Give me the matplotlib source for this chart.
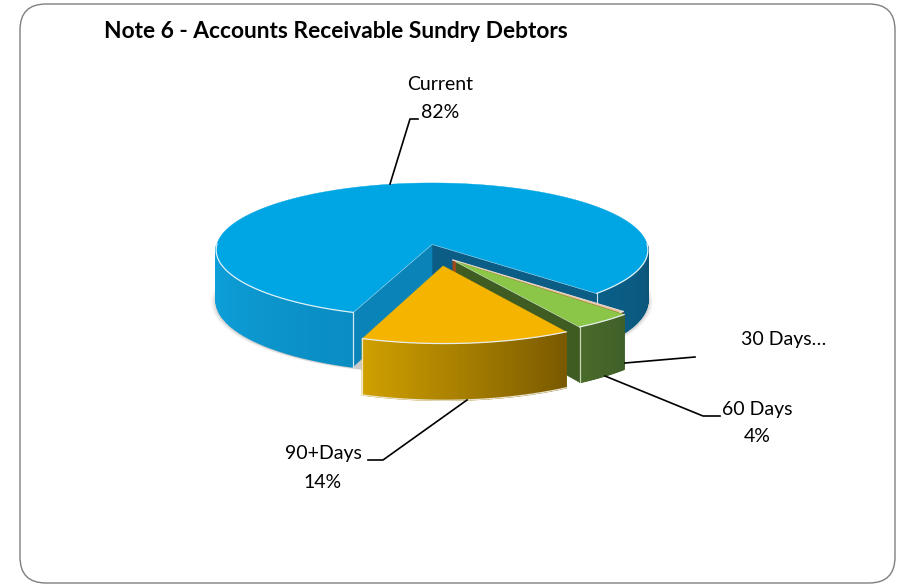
import numpy as np
import matplotlib
matplotlib.use("Agg")
import matplotlib.pyplot as plt
from matplotlib.patches import FancyBboxPatch, Polygon
from matplotlib.colors import to_rgb

title = "Note 6 - Accounts Receivable Sundry Debtors"
categories = ["Current", "30 Days", "60 Days", "90+Days"]
shares = [82, 0.3, 4, 14]
top_colors = ["#00a5e3", "#e9c9a8", "#8cc649", "#f4b400"]

plt.rcParams["font.family"] = ["Lato", "DejaVu Sans"]
fig = plt.figure(figsize=(9.01, 5.84), dpi=100)
ax = fig.add_axes([0, 0, 1, 1])
ax.set_xlim(0, 901)
ax.set_ylim(584, 0)
ax.axis("off")

ax.add_patch(FancyBboxPatch((20, 4), 875, 579, boxstyle="round,pad=0,rounding_size=26",
                            fc="white", ec="#7f7f7f", lw=1.0, zorder=0))

# pie projection
CX, CY, R, S, K, H = 432, 244, 215, 66.5, 0.0896, 50


def proj(u, v, z=0.0):
    w = 1 - K * np.asarray(v, float)
    return CX + R * np.asarray(u, float) / w, CY + (S * np.asarray(v, float) + z) / w


def rim(a0, a1, off=(0, 0), n=80):
    t = np.radians(np.linspace(a0, a1, n))
    return off[0] + np.cos(t), off[1] - np.sin(t)


def poly(x, y, color, z=1, ec=None, lw=0.9, alpha=1.0):
    ax.add_patch(Polygon(np.column_stack([x, y]), closed=True, fc=color,
                         ec=ec if ec else (color if alpha == 1.0 else "none"),
                         lw=lw, alpha=alpha, zorder=z))


def wall(a0, a1, off, c0, c1, z, n=60):
    edges = np.linspace(a0, a1, n + 1)
    c0, c1 = np.array(to_rgb(c0)), np.array(to_rgb(c1))
    for i in range(n):
        u, v = rim(edges[i], edges[i + 1], off, 4)
        xt, yt = proj(u, v)
        xb, yb = proj(u, v, H)
        f = i / (n - 1)
        poly(np.r_[xt, xb[::-1]], np.r_[yt, yb[::-1]], tuple(c0 + (c1 - c0) * f), z, lw=1.0)


def face(angle, off, color, z):
    u, v = rim(angle, angle, off, 1)
    ox, oy = off
    x = [proj(ox, oy)[0], proj(u[0], v[0])[0], proj(u[0], v[0], H)[0], proj(ox, oy, H)[0]]
    y = [proj(ox, oy)[1], proj(u[0], v[0])[1], proj(u[0], v[0], H)[1], proj(ox, oy, H)[1]]
    poly(x, y, color, z, lw=0.4)
    ax.plot(x[:2], y[:2], color="#dfeef5", lw=0.9, zorder=z + 0.3)


def top(a0, a1, off, color, z, front=None):
    u, v = rim(a0, a1, off, 160)
    x, y = proj(u, v)
    ox, oy = proj(off[0], off[1])
    poly(np.r_[ox, x], np.r_[oy, y], color, z, lw=0.3)
    if front is None:
        ax.plot(x, y, color="#e8eef0", lw=0.9, zorder=z + 0.2)
    else:
        for f0, f1 in front:
            ux, vx = rim(f0, f1, off, 60)
            fx, fy = proj(ux, vx)
            ax.plot(fx, fy, color="#dff1f8", lw=0.9, zorder=z + 0.2)


# angles, clockwise from the first-slice angle
START = 250.3
fr = np.array(shares) / sum(shares) * 360
bounds = START - np.r_[0, np.cumsum(fr)]
OFFS = [(0, 0), (0.095, 0.235), (0.11, 0.26), (0.05, 0.32)]

# soft shadow
tt = np.radians(np.linspace(0, 360, 200))
for grow, a in [(5, 0.05), (3.5, 0.07), (2, 0.09), (1, 0.12)]:
    sx, sy = proj(np.cos(tt), np.sin(tt), H + 1)
    poly(CX + (sx - CX) * (1 + grow / 216), sy + grow * 0.2, "#555555", 1, alpha=a)

# Current slice
a0, a1 = bounds[0], bounds[1]
wall(180, a0, (0, 0), "#0ea3de", "#0a8dc2", 2)
wall(a1, 0, (0, 0), "#0a5f88", "#0d5478", 2)
face(a1, (0, 0), "#0b5d85", 3)
face(a0, (0, 0), "#0a84b8", 3.4)
u, v = rim(a0, a0, (0, 0), 1)
xe, ye0 = proj(u[0], v[0])
_, ye1 = proj(u[0], v[0], H)
ax.plot([xe, xe], [ye0, ye1], color="#cfe8f3", lw=0.9, zorder=3.8)
u, v = rim(a1, a1, (0, 0), 1)
xe, ye0 = proj(u[0], v[0])
_, ye1 = proj(u[0], v[0], H)
ax.plot([xe, xe], [ye0, ye1], color="#cfe8f3", lw=0.8, zorder=3.8)
top(a0, a1, (0, 0), top_colors[0], 4, front=[(a0, 180), (a1, 0)])

# 30 Days sliver
off = OFFS[1]
face(bounds[1], off, "#9c4a1c", 5)
top(bounds[1], bounds[2], off, top_colors[1], 5.5)

# 60 Days slice
off = OFFS[2]
wall(bounds[3], bounds[2], off, "#4a6b2a", "#40602a", 6)
face(bounds[3], off, "#3f5c22", 6.2)
top(bounds[3], bounds[2], off, top_colors[2], 6.5)
u, v = rim(bounds[3], bounds[3], off, 1)
xe, ye0 = proj(u[0], v[0])
_, ye1 = proj(u[0], v[0], H)
ax.plot([xe, xe], [ye0, ye1], color="#c9d6b8", lw=0.9, zorder=6.6)

# 90+ slice
off = OFFS[3]
wall(bounds[4], bounds[3], off, "#d0a000", "#7a5a00", 7)
top(bounds[4], bounds[3], off, top_colors[3], 7.5)
u, v = rim(bounds[4], bounds[3], off, 80)
xb, yb = proj(u, v, H)
ax.plot(xb, yb, color="#e8e4d0", lw=0.9, zorder=7.6)
xb, yb = proj(u[0], v[0], H)
xt, yt = proj(u[0], v[0])
ax.plot([xt, xb], [yt, yb], color="#efe6c4", lw=0.9, zorder=7.6)

# title and labels
ax.text(104, 31, title, fontsize=16.4, fontweight="bold", color="black", ha="left", va="center", zorder=10)
fs = 14
ax.text(440, 84, categories[0], fontsize=fs, ha="center", va="center", zorder=10)
ax.text(440, 112, f"{shares[0]}%", fontsize=fs, ha="center", va="center", zorder=10)
ax.text(741, 340, categories[1] + "…", fontsize=fs, ha="left", va="center", zorder=10)
ax.text(757, 409, categories[2], fontsize=fs, ha="center", va="center", zorder=10)
ax.text(757, 436, f"{shares[2]}%", fontsize=fs, ha="center", va="center", zorder=10)
ax.text(323, 454, categories[3], fontsize=fs, ha="center", va="center", zorder=10)
ax.text(323, 482, f"{shares[3]}%", fontsize=fs, ha="center", va="center", zorder=10)

# leader lines
leaders = [([390, 410, 418], [184, 119, 119]),
           ([625, 695], [363, 357]),
           ([605, 703, 720], [376, 416, 416]),
           ([467, 383, 368], [400, 460, 460])]
for lx, ly in leaders:
    ax.plot(lx, ly, color="black", lw=1.2, zorder=9)

fig.savefig("out.png", dpi=100, facecolor="white")
